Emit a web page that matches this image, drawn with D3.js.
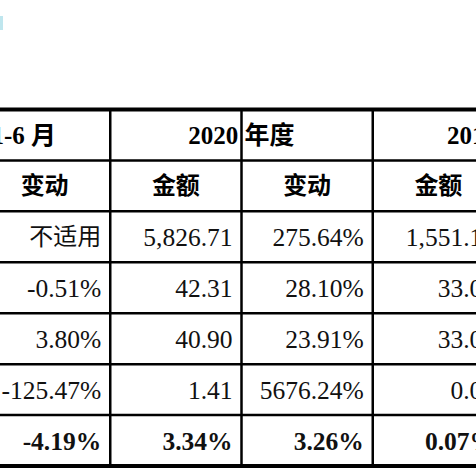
<!DOCTYPE html><html><head><meta charset="utf-8"><script src="https://cdn.jsdelivr.net/npm/d3@7"></script>
<style>body{margin:0;background:#fff}</style></head><body><script>
const groupHeaders = ["2021 年 1-6 月","2020 年度","2019 年度"];
const subHeaders = ["变动","金额","变动","金额"];
const col0 = ["不适用","-0.51%","3.80%","-125.47%","-4.19%"];
const col1 = ["5,826.71","42.31","40.90","1.41","3.34%"];
const col2 = ["275.64%","28.10%","23.91%","5676.24%","3.26%"];
const col3 = ["1,551.18","33.03","33.03","0.01","0.07%"];
const cols = [col0,col1,col2,col3];
const W=476,H=476;
const svg=d3.select("body").append("svg").attr("width",W).attr("height",H);
svg.append("rect").attr("x",0).attr("y",16).attr("width",3).attr("height",14).attr("fill","#bfe6ee");
const x=d3.scaleLinear().domain([0,4]).range([-21,504]);
const y=d3.scaleLinear().domain([0,7]).range([109.5,466]);
const sans='"Noto Sans CJK SC",sans-serif', serif='"Liberation Serif","Noto Sans CJK SC",serif';
const g=svg.append("g").attr("stroke","#000");
[1,2,3].forEach(i=>g.append("line").attr("x1",x(i)).attr("x2",x(i)).attr("y1",y(0)).attr("y2",y(7)).attr("stroke-width",2.5));
d3.range(1,7).forEach(r=>g.append("line").attr("x1",0).attr("x2",W).attr("y1",y(r)).attr("y2",y(r)).attr("stroke-width",2.5));
g.append("line").attr("x1",0).attr("x2",W).attr("y1",y(0)).attr("y2",y(0)).attr("stroke-width",4);
g.append("line").attr("x1",0).attr("x2",W).attr("y1",y(7)).attr("y2",y(7)).attr("stroke-width",4);
const hs=25;
svg.append("text").attr("x",56).attr("y",y(0.5)).attr("dy","0.35em").attr("text-anchor","end").attr("font-family",serif).attr("font-weight","bold").attr("font-size",hs).text(groupHeaders[0]);
svg.append("text").attr("x",x(2)).attr("y",y(0.5)).attr("dy","0.35em").attr("text-anchor","middle").attr("font-family",serif).attr("font-weight","bold").attr("font-size",hs).text(groupHeaders[1]);
svg.append("text").attr("x",447).attr("y",y(0.5)).attr("dy","0.35em").attr("text-anchor","start").attr("font-family",serif).attr("font-weight","bold").attr("font-size",hs).text(groupHeaders[2]);
subHeaders.forEach((t,i)=>svg.append("text").attr("x",(x(i)+x(i+1))/2).attr("y",y(1.5)).attr("dy","0.35em").attr("text-anchor","middle").attr("font-family",sans).attr("font-weight","bold").attr("font-size",24).text(t));
cols.forEach((c,i)=>c.forEach((v,r)=>{
  const cjk=/[\u4e00-\u9fff]/.test(v);
  svg.append("text").attr("x",x(i+1)-9).attr("y",y(r+2.5)).attr("dy","0.36em").attr("text-anchor","end")
   .attr("font-family",cjk?sans:serif).attr("font-size",cjk?24:25.5)
   .attr("font-weight",r===4?"bold":"normal").attr("fill","#111").text(v);
}));
</script></body></html>
